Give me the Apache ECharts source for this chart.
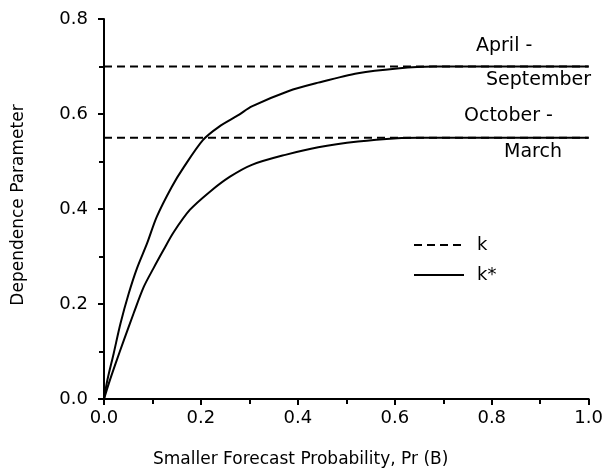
<!DOCTYPE html>
<html>
<head>
<meta charset="utf-8">
<script src="https://cdn.jsdelivr.net/npm/echarts@6/dist/echarts.min.js"></script>
<style>html,body{margin:0;padding:0;background:#fff;}#c{width:606px;height:470px;}</style>
</head>
<body>
<div id="c"></div>
<script>
// Tick labels
var xTicks = [0.0, 0.2, 0.4, 0.6, 0.8, 1.0];
var yTicks = [0.0, 0.2, 0.4, 0.6, 0.8];
// Dependence parameter k (constant) per season
var kAprSep = 0.70;
var kOctMar = 0.55;
// k* curve, April - September
var aprSepP = [0, 0.007, 0.020, 0.034, 0.051, 0.068, 0.089, 0.109, 0.140, 0.164, 0.204, 0.237, 0.278, 0.305, 0.380, 0.442, 0.524, 0.605, 0.680, 1.0];
var aprSepK = [0, 0.040, 0.096, 0.159, 0.222, 0.275, 0.328, 0.384, 0.447, 0.487, 0.545, 0.573, 0.598, 0.616, 0.648, 0.666, 0.686, 0.696, 0.700, 0.700];
// k* curve, October - March
var octMarP = [0, 0.010, 0.024, 0.041, 0.061, 0.082, 0.102, 0.123, 0.143, 0.177, 0.218, 0.260, 0.305, 0.374, 0.442, 0.524, 0.605, 0.650, 1.0];
var octMarK = [0, 0.033, 0.075, 0.124, 0.180, 0.236, 0.275, 0.314, 0.350, 0.398, 0.436, 0.468, 0.493, 0.514, 0.530, 0.542, 0.549, 0.550, 0.550];

function zip(a, b) { return a.map(function (v, i) { return [v, b[i]]; }); }

var FONT = 'DejaVu Sans';
var chart = echarts.init(document.getElementById('c'), null, { renderer: 'canvas' });
var dash = [8, 5];
var black = { color: '#000' };
chart.setOption({
  animation: false,
  backgroundColor: '#fff',
  grid: { left: 104, right: 13, top: 19, bottom: 71 },
  xAxis: {
    type: 'value', min: 0, max: 1, interval: 0.2,
    axisLine: { show: true, lineStyle: { color: '#000', width: 2 } },
    axisTick: { show: true, inside: false, length: 6, lineStyle: { color: '#000', width: 2 } },
    minorTick: { show: true, splitNumber: 2, length: 5, lineStyle: { color: '#000', width: 2 } },
    splitLine: { show: false },
    axisLabel: { color: '#000', fontFamily: FONT, fontSize: 18, margin: 10,
      formatter: function (v) { return v.toFixed(1); } }
  },
  yAxis: {
    type: 'value', min: 0, max: 0.8, interval: 0.2,
    axisLine: { show: true, lineStyle: { color: '#000', width: 2 } },
    axisTick: { show: true, inside: false, length: 6, lineStyle: { color: '#000', width: 2 } },
    minorTick: { show: true, splitNumber: 2, length: 5, lineStyle: { color: '#000', width: 2 } },
    splitLine: { show: false },
    axisLabel: { color: '#000', fontFamily: FONT, fontSize: 18, margin: 16,
      formatter: function (v) { return v.toFixed(1); } }
  },
  legend: {
    orient: 'vertical', left: 408, top: 231, itemWidth: 50, itemHeight: 14, itemGap: 12,
    data: ['k', 'k*'],
    itemStyle: { opacity: 0 },
    textStyle: { color: '#000', fontFamily: FONT, fontSize: 18, padding: [0, 0, 0, 8] }
  },
  series: [
    { name: 'k', type: 'line', symbol: 'none', silent: true, itemStyle: black,
      data: [[xTicks[0], kAprSep], [xTicks[xTicks.length - 1], kAprSep]],
      lineStyle: { color: '#000', width: 2, type: dash } },
    { name: 'k', type: 'line', symbol: 'none', silent: true, itemStyle: black,
      data: [[xTicks[0], kOctMar], [xTicks[xTicks.length - 1], kOctMar]],
      lineStyle: { color: '#000', width: 2, type: dash } },
    { name: 'k*', type: 'line', symbol: 'none', silent: true, smooth: 0.3, itemStyle: black,
      data: zip(aprSepP, aprSepK),
      lineStyle: { color: '#000', width: 2 } },
    { name: 'k*', type: 'line', symbol: 'none', silent: true, smooth: 0.3, itemStyle: black,
      data: zip(octMarP, octMarK),
      lineStyle: { color: '#000', width: 2 } }
  ],
  graphic: [
    { type: 'text', left: 476, top: 37, style: { text: 'April -', font: '19px "DejaVu Sans"', fill: '#000' } },
    { type: 'text', left: 486, top: 71, style: { text: 'September', font: '19px "DejaVu Sans"', fill: '#000' } },
    { type: 'text', left: 464, top: 107, style: { text: 'October -', font: '19px "DejaVu Sans"', fill: '#000' } },
    { type: 'text', left: 504, top: 143, style: { text: 'March', font: '19px "DejaVu Sans"', fill: '#000' } },
    { type: 'text', left: 153, top: 451, style: { text: 'Smaller Forecast Probability, Pr (B)', font: '17px "DejaVu Sans"', fill: '#000' } },
    { type: 'text', x: 19, y: 205, rotation: Math.PI / 2,
      style: { text: 'Dependence Parameter', font: '17px "DejaVu Sans"', fill: '#000', align: 'center', verticalAlign: 'middle' } }
  ]
});
</script>
</body>
</html>
